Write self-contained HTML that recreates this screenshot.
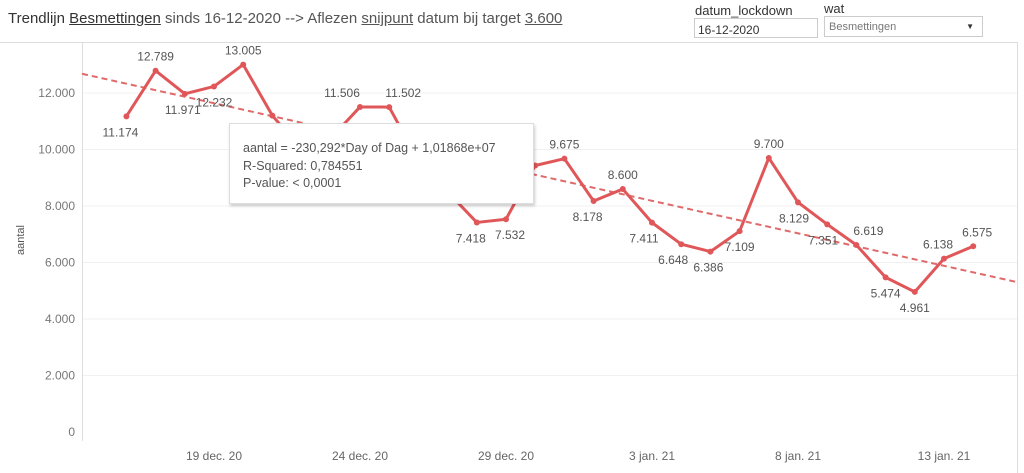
<!DOCTYPE html>
<html><head><meta charset="utf-8"><style>
body{margin:0;width:1024px;height:473px;background:#fff;font-family:"Liberation Sans",sans-serif;overflow:hidden;position:relative}
.t{position:absolute;white-space:nowrap}
</style></head><body>
<div class="t" style="left:8px;top:10px;font-size:15px;color:#555"><span style="color:#333">Trendlijn <u>Besmettingen</u></span> sinds 16-12-2020 --&gt; Aflezen <u>snijpunt</u> datum bij target <u>3.600</u></div>
<div class="t" style="left:695px;top:3px;font-size:13px;color:#333">datum_lockdown</div>
<div class="t" style="left:694px;top:18px;width:124px;height:20px;border:1px solid #ccc;font-size:12px;color:#333;line-height:22px;padding-left:3px;box-sizing:border-box">16-12-2020</div>
<div class="t" style="left:824px;top:1px;font-size:13px;color:#333">wat</div>
<div class="t" style="left:824px;top:16px;width:159px;height:21px;border:1px solid #ccc;font-size:11px;color:#777;line-height:20px;padding-left:4px;box-sizing:border-box">Besmettingen<span style="position:absolute;right:8px;font-size:8px;color:#333">▼</span></div>
<svg id="chart" width="1024" height="473" style="position:absolute;left:0;top:0"></svg>
<div class="t" style="left:229px;top:123px;width:305px;height:81px;background:#fff;border:1px solid #ddd;box-shadow:1px 2px 3px rgba(0,0,0,.2);box-sizing:border-box;padding:16px 0 0 13px;font-size:12.5px;color:#555;line-height:17.5px">aantal = -230,292*Day of Dag + 1,01868e+07<br>R-Squared: 0,784551<br>P-value: &lt; 0,0001</div>
<script>
const dates=["16 dec","17 dec","18 dec","19 dec","20 dec","21 dec","22 dec","23 dec","24 dec","25 dec","26 dec","27 dec","28 dec","29 dec","30 dec","31 dec","1 jan","2 jan","3 jan","4 jan","5 jan","6 jan","7 jan","8 jan","9 jan","10 jan","11 jan","12 jan","13 jan","14 jan"];
const values=[11174,12789,11971,12232,13005,11200,10000,10400,11506,11502,9600,8500,7418,7532,9434,9675,8178,8600,7411,6648,6386,7109,9700,8129,7351,6619,5474,4961,6138,6575];
const showLabel=[1,1,1,1,1,0,0,0,1,1,0,0,1,1,0,1,1,1,1,1,1,1,1,1,1,1,1,1,1,1];
const labelAbove=[0,1,0,0,1,0,0,0,1,1,0,0,0,0,1,1,0,1,0,0,0,0,1,0,0,1,0,0,1,1];
const labelDx=[-6,0,-2,0,0,0,0,0,-18,14,0,0,-6,4,0,0,-6,0,-8,-8,-2,0,0,-4,-4,12,0,0,-6,4];
const yTicks=[0,2000,4000,6000,8000,10000,12000];
const xTickIdx=[3,8,13,18,23,28];
const xTickLabels=["19 dec. 20","24 dec. 20","29 dec. 20","3 jan. 21","8 jan. 21","13 jan. 21"];
const trendIntercept=12330, trendSlope=-230.292;
const svg=document.getElementById('chart');const NS='http://www.w3.org/2000/svg';
const X=i=>126.4+i*29.2, Y=v=>432-v*0.02825;
function mk(t,a,p){const e=document.createElementNS(NS,t);for(const k in a)e.setAttribute(k,a[k]);(p||svg).appendChild(e);return e;}
const fmt=v=>{const s=String(v);return s.length>3?s.slice(0,-3)+'.'+s.slice(-3):s;};
let e;
e=mk('line',{x1:0,y1:42.5,x2:1017,y2:42.5,stroke:'#ddd'});

e=mk('line',{x1:1017.5,y1:42,x2:1017.5,y2:473,stroke:'#ddd'});

yTicks.forEach(v=>{
 if(v>0){e=mk('line',{x1:82,y1:Y(v),x2:1017,y2:Y(v),stroke:'#f0f0f0'});
 }
 e=mk('text',{x:75,y:Y(v)+4,'text-anchor':'end','font-size':12,fill:'#777'});e.textContent=fmt(v);
 
});
e=mk('line',{x1:82.5,y1:43,x2:82.5,y2:441,stroke:'#ddd'});

e=mk('text',{x:0,y:0,transform:'translate(24,240) rotate(-90)','text-anchor':'middle','font-size':11,fill:'#555'});e.textContent='aantal';

xTickIdx.forEach((d,j)=>{e=mk('text',{x:X(d),y:460,'text-anchor':'middle','font-size':12,fill:'#666'});e.textContent=xTickLabels[j];
 });
const tv=x=>trendIntercept+trendSlope*((x-126.4)/29.2);
e=mk('line',{x1:82,y1:Y(tv(82)),x2:1017,y2:Y(tv(1017)),stroke:'#e06a6a','stroke-width':2,'stroke-dasharray':'6,4'});

e=mk('polyline',{points:values.map((v,i)=>X(i)+','+Y(v)).join(' '),fill:'none',stroke:'#e05759','stroke-width':3,'stroke-linejoin':'round'});

values.forEach((v,i)=>{
 e=mk('circle',{cx:X(i),cy:Y(v),r:3,fill:'#e05759'});
 
 if(showLabel[i]){e=mk('text',{x:X(i)+labelDx[i],y:Y(v)+(labelAbove[i]?-10:20),'text-anchor':'middle','font-size':12,fill:'#555'});e.textContent=fmt(v);
 }
});
</script>
</body></html>
